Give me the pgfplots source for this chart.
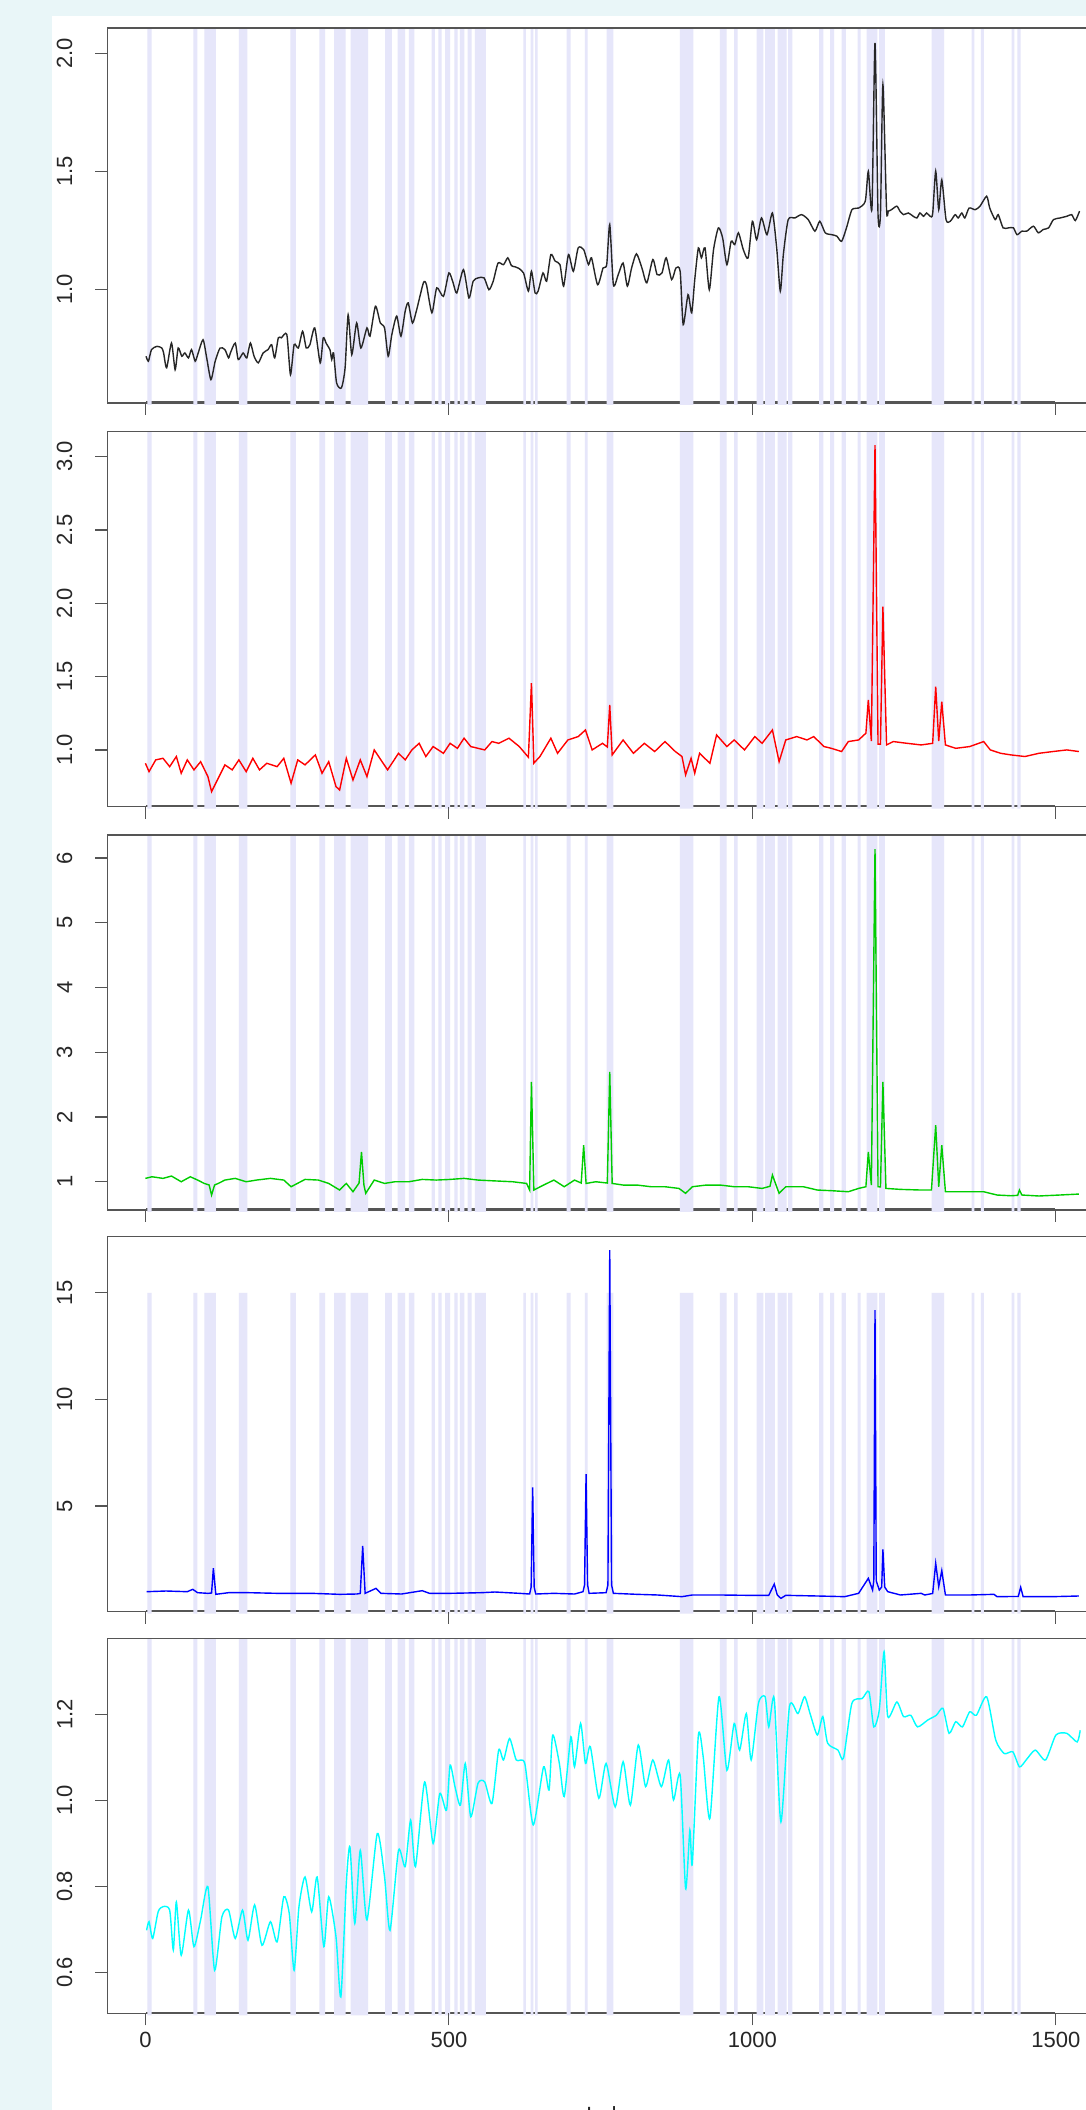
\documentclass[border=0pt]{standalone}
\usepackage{fontspec}
\setmainfont{Liberation Sans}
\usepackage{pgfplots}
\usepackage{pgfplotstable}
\pgfplotsset{compat=1.18}

\definecolor{bandcol}{HTML}{E6E6FA}
\definecolor{framecol}{HTML}{E9F6F8}
\definecolor{spinecol}{HTML}{555555}
\definecolor{rcol}{HTML}{FF0000}
\definecolor{gcol}{HTML}{00CD00}
\definecolor{bcol}{HTML}{0000FF}
\definecolor{ccol}{HTML}{00FFFF}

% shaded index ranges, written as a comb: f=1 on the band, f=0 off it
\pgfplotstableread{
x f
3.1 0
3.1 1
10.4 1
10.4 0
79 0
79 1
85.5 1
85.5 0
97 0
97 1
116 1
116 0
154 0
154 1
168 1
168 0
239 0
239 1
248 1
248 0
286.5 0
286.5 1
296 1
296 0
311 0
311 1
330 1
330 0
338 0
338 1
367 1
367 0
395 0
395 1
406 1
406 0
415.6 0
415.6 1
427.7 1
427.7 0
434 0
434 1
443 1
443 0
471.6 0
471.6 1
477 1
477 0
482.5 0
482.5 1
488 1
488 0
493.6 0
493.6 1
502 1
502 0
509 0
509 1
514.5 1
514.5 0
518 0
518 1
525.4 1
525.4 0
531 0
531 1
537.6 1
537.6 0
543 0
543 1
561 1
561 0
622.6 0
622.6 1
627 1
627 0
634.8 0
634.8 1
639 1
639 0
642 0
642 1
646 1
646 0
694 0
694 1
700.7 1
700.7 0
724 0
724 1
728.7 1
728.7 0
760 0
760 1
771 1
771 0
880.7 0
880.7 1
902.6 1
902.6 0
946.6 0
946.6 1
957.6 1
957.6 0
969.7 0
969.7 1
975.8 1
975.8 0
1007 0
1007 1
1018 1
1018 0
1020.8 0
1020.8 1
1037 1
1037 0
1041.7 0
1041.7 1
1056.5 1
1056.5 0
1059 0
1059 1
1066 1
1066 0
1110 0
1110 1
1117 1
1117 0
1128 0
1128 1
1134.5 1
1134.5 0
1147 0
1147 1
1154 1
1154 0
1173.5 0
1173.5 1
1178.4 1
1178.4 0
1188 0
1188 1
1206 1
1206 0
1208.6 0
1208.6 1
1218.4 1
1218.4 0
1295.4 0
1295.4 1
1315.7 1
1315.7 0
1361 0
1361 1
1365.6 1
1365.6 0
1376.6 0
1376.6 1
1381.5 1
1381.5 0
1427 0
1427 1
1431.5 1
1431.5 0
1436.5 0
1436.5 1
1442 1
1442 0
}\bandtab

\pgfplotstableread{
x y
1 0.716
5 0.695
10 0.744
19 0.758
27 0.751
30 0.730
35 0.667
43 0.772
49 0.659
54 0.751
60 0.716
65 0.730
71 0.709
76 0.744
82 0.695
87 0.730
95 0.786
101 0.709
108 0.617
115 0.695
123 0.751
131 0.744
137 0.709
140 0.730
148 0.772
153 0.702
161 0.730
167 0.709
173 0.772
179 0.716
186 0.688
194 0.730
202 0.744
208 0.765
213 0.709
219 0.794
224 0.794
233 0.808
239 0.638
245 0.765
252 0.751
259 0.822
265 0.751
271 0.765
279 0.836
288 0.688
293 0.794
298 0.770
304 0.744
307 0.702
310 0.730
315 0.603
323 0.582
329 0.667
334 0.892
340 0.723
348 0.857
355 0.751
365 0.836
370 0.801
379 0.928
387 0.857
394 0.836
400 0.716
406 0.808
414 0.886
421 0.801
428 0.907
433 0.942
440 0.857
447 0.914
458 1.027
463 1.019
472 0.900
480 1.006
491 0.970
500 1.069
507 1.027
513 0.984
524 1.083
533 0.963
540 1.034
548 1.048
558 1.048
566 0.998
573 1.034
581 1.111
590 1.104
597 1.133
603 1.100
609 1.095
614 1.090
623 1.069
631 0.992
636 1.076
642 0.984
647 0.992
655 1.069
661 1.034
668 1.147
675 1.119
683 1.104
689 1.013
697 1.147
705 1.076
713 1.175
722 1.168
730 1.104
735 1.133
745 1.019
754 1.090
760 1.104
765 1.274
771 1.019
779 1.062
787 1.111
794 1.013
801 1.090
809 1.150
818 1.090
826 1.027
836 1.126
843 1.062
851 1.069
858 1.133
867 1.041
874 1.090
881 1.076
886 0.850
894 0.977
900 0.900
905 1.040
911 1.175
916 1.133
922 1.175
929 0.998
936 1.168
944 1.260
951 1.217
958 1.104
965 1.203
971 1.189
977 1.239
985 1.168
993 1.133
1000 1.288
1007 1.210
1015 1.302
1024 1.231
1033 1.323
1040 1.175
1046 0.992
1051 1.147
1059 1.295
1070 1.302
1081 1.316
1092 1.295
1103 1.246
1111 1.288
1120 1.239
1131 1.231
1139 1.225
1147 1.203
1155 1.260
1164 1.337
1175 1.344
1186 1.373
1191 1.500
1197 1.344
1202 2.044
1207 1.316
1211 1.320
1215 1.867
1221 1.337
1224 1.331
1229 1.337
1238 1.352
1243 1.331
1249 1.316
1257 1.323
1265 1.309
1271 1.302
1276 1.323
1282 1.309
1287 1.323
1293 1.309
1297 1.320
1302 1.500
1307 1.337
1312 1.464
1319 1.295
1326 1.288
1334 1.316
1339 1.302
1345 1.323
1350 1.302
1357 1.344
1367 1.337
1375 1.352
1386 1.394
1391 1.344
1400 1.295
1405 1.316
1413 1.260
1422 1.260
1430 1.260
1436 1.231
1444 1.246
1452 1.246
1463 1.267
1471 1.239
1479 1.253
1488 1.260
1496 1.295
1507 1.302
1518 1.309
1526 1.316
1532 1.291
1539 1.331
}\blackdata

\pgfplotstableread{
x y
0 0.909
6 0.852
17 0.932
29 0.943
40 0.886
51 0.955
59 0.841
69 0.932
80 0.864
91 0.920
103 0.818
109 0.716
120 0.807
131 0.898
143 0.864
154 0.932
166 0.852
177 0.943
188 0.864
200 0.909
217 0.886
228 0.943
240 0.773
251 0.932
263 0.898
280 0.966
291 0.841
302 0.920
314 0.750
320 0.727
331 0.943
342 0.795
354 0.932
365 0.818
377 1.000
388 0.932
399 0.864
417 0.977
428 0.932
439 1.000
451 1.045
462 0.955
474 1.023
491 0.977
502 1.045
514 1.011
525 1.080
536 1.023
559 1.000
571 1.057
582 1.045
599 1.080
616 1.023
631 0.950
636 1.455
640 0.910
650 0.955
668 1.080
679 0.977
696 1.068
713 1.091
725 1.136
736 1.000
753 1.045
761 1.020
765 1.307
769 0.966
787 1.068
804 0.977
822 1.045
839 0.989
856 1.057
873 0.989
884 0.955
890 0.830
899 0.943
905 0.841
913 0.977
930 0.909
941 1.102
958 1.023
970 1.068
987 1.000
1004 1.091
1016 1.045
1033 1.136
1044 0.920
1055 1.068
1073 1.091
1090 1.068
1101 1.091
1118 1.023
1130 1.011
1147 0.989
1158 1.057
1175 1.068
1187 1.114
1191 1.341
1196 1.060
1202 3.079
1207 1.040
1211 1.040
1215 1.977
1221 1.034
1232 1.057
1255 1.045
1278 1.034
1297 1.045
1302 1.432
1307 1.060
1312 1.329
1318 1.034
1335 1.011
1358 1.023
1381 1.057
1392 1.000
1409 0.977
1426 0.966
1449 0.955
1472 0.977
1495 0.989
1518 1.000
1538 0.989
}\reddata

\pgfplotstableread{
x y
0 1.052
11 1.077
29 1.052
43 1.088
59 1.000
74 1.077
86 1.026
97 0.974
105 0.950
109 0.795
114 0.950
120 0.974
131 1.026
148 1.052
166 1.000
183 1.026
206 1.052
228 1.026
240 0.923
263 1.036
285 1.026
302 0.974
320 0.872
331 0.974
342 0.846
352 0.980
356 1.462
360 0.950
363 0.821
377 1.026
394 0.974
411 1.000
434 1.000
456 1.036
479 1.026
502 1.036
525 1.052
548 1.026
571 1.015
605 1.000
628 0.974
633 0.872
636 2.541
640 0.872
656 0.949
673 1.026
690 0.923
707 1.026
718 0.980
722 1.565
726 0.974
742 1.000
761 0.980
765 2.695
769 0.974
787 0.949
810 0.949
833 0.923
856 0.923
879 0.897
890 0.821
901 0.923
924 0.949
947 0.949
970 0.923
993 0.923
1016 0.897
1029 0.930
1033 1.103
1044 0.821
1055 0.923
1084 0.923
1107 0.872
1130 0.862
1158 0.846
1175 0.897
1187 0.923
1191 1.462
1196 0.949
1202 6.137
1207 0.923
1211 0.920
1215 2.541
1220 0.897
1244 0.882
1278 0.872
1295 0.872
1302 1.874
1307 0.923
1312 1.565
1318 0.846
1346 0.846
1381 0.846
1403 0.795
1426 0.784
1437 0.790
1440 0.872
1444 0.795
1472 0.780
1506 0.795
1538 0.810
}\greendata

\pgfplotstableread{
x y
2 0.983
34 1.015
69 0.983
78 1.094
86 0.936
103 0.906
109 0.920
112 2.080
116 0.860
137 0.936
171 0.936
217 0.906
274 0.906
320 0.859
348 0.874
354 0.900
358 3.125
362 0.906
380 1.140
388 0.906
422 0.874
456 1.030
468 0.906
502 0.906
553 0.936
576 0.968
616 0.906
633 0.874
635.5 1.200
638 5.880
640.5 1.200
643 0.874
673 0.906
707 0.874
721 0.983
723.5 1.300
726 6.500
728.5 1.300
731 0.906
759 0.936
762 1.300
765 17.000
768 1.300
771 0.906
810 0.859
844 0.828
884 0.750
901 0.828
947 0.828
993 0.812
1027 0.812
1036 1.340
1041 0.828
1047 0.670
1055 0.812
1107 0.781
1152 0.750
1175 0.906
1191 1.610
1198 1.060
1200 1.500
1202 14.190
1204 1.500
1209 1.060
1213 1.200
1215 2.970
1218 1.200
1223 0.983
1244 0.828
1278 0.906
1284 0.828
1297 0.900
1302 2.310
1307 1.220
1312 1.970
1318 0.828
1358 0.828
1398 0.859
1403 0.750
1438 0.760
1442 1.190
1446 0.750
1495 0.750
1538 0.781
}\bluedata

\pgfplotstableread{
x y
2 0.698
6 0.718
12 0.679
21 0.741
29 0.753
40 0.745
46 0.652
51 0.764
59 0.640
71 0.745
80 0.660
91 0.722
103 0.799
114 0.605
126 0.729
137 0.745
148 0.679
160 0.745
169 0.675
180 0.757
192 0.663
206 0.718
217 0.671
228 0.776
237 0.737
245 0.605
253 0.753
263 0.822
274 0.741
283 0.822
294 0.660
302 0.776
314 0.683
322 0.543
331 0.807
337 0.892
345 0.714
354 0.884
365 0.722
382 0.923
394 0.822
403 0.698
417 0.884
428 0.846
437 0.954
445 0.846
460 1.043
474 0.900
485 1.016
496 0.977
502 1.082
510 1.032
519 0.989
527 1.086
536 0.962
548 1.040
559 1.043
571 0.993
582 1.117
590 1.094
600 1.144
611 1.094
625 1.086
639 0.943
656 1.078
665 1.024
671 1.152
682 1.086
690 1.009
701 1.148
707 1.078
717 1.179
725 1.086
733 1.125
747 1.005
759 1.086
774 0.985
787 1.090
799 0.989
812 1.129
824 1.032
836 1.094
850 1.032
862 1.094
870 1.001
881 1.059
890 0.795
897 0.931
901 0.853
911 1.152
919 1.101
930 0.958
945 1.241
958 1.070
970 1.179
979 1.117
990 1.202
998 1.094
1010 1.226
1021 1.241
1027 1.171
1036 1.237
1047 0.950
1061 1.218
1075 1.202
1086 1.241
1095 1.202
1107 1.152
1116 1.195
1124 1.133
1141 1.117
1150 1.098
1164 1.226
1181 1.237
1192 1.253
1200 1.171
1209 1.210
1217 1.346
1223 1.195
1238 1.229
1249 1.195
1261 1.198
1272 1.171
1289 1.187
1303 1.198
1314 1.214
1324 1.156
1335 1.183
1346 1.171
1358 1.206
1369 1.198
1386 1.241
1401 1.140
1415 1.109
1429 1.113
1440 1.078
1451 1.094
1466 1.117
1483 1.094
1500 1.152
1518 1.156
1535 1.136
1540 1.163
}\cyandata

\pgfplotsset{
  panel/.style={
    scale only axis, width=505.2pt, height=187.5pt,
    xmin=-62.6, xmax=1602, clip=false,
    axis line style={draw=none}, axis on top,
    tick align=outside, major tick length=6pt,
    tick style={spinecol, line width=0.6pt},
    xtick={0,500,1000,1500}, xticklabels={},
    xtick pos=bottom, ytick pos=left,
    tick label style={font=\fontsize{11}{13}\selectfont, text=black!85},
    yticklabel style={xshift=-8pt, rotate=90, anchor=south},
    /pgf/number format/assume math mode=true,
  },
}

% box, rug and shaded bands of one panel: #1 ymin, #2 ymax, #3 rug y, #4 band bottom, #5 band top
\newcommand{\panelback}[5]{%
  \draw[spinecol, line width=0.6pt] (axis cs:-62.6,#1) -- (axis cs:1602,#1);
  \addplot[spinecol, line width=1.2pt, forget plot] coordinates {(1,#3) (1498,#3)};
  \addplot[fill=bandcol, draw=none, forget plot]
    table[x=x, y expr={\thisrow{f}*(#5-(#4))+(#4)}] {\bandtab};
  \draw[spinecol, line width=0.6pt] (axis cs:-62.6,#1) -- (axis cs:-62.6,#2) -- (axis cs:1602,#2);
}

\begin{document}
\begin{tikzpicture}
\path[use as bounding box] (0pt,0pt) rectangle (543pt,1055pt);
\clip (0pt,0pt) rectangle (543pt,1055pt);
\fill[framecol] (0pt,0pt) rectangle (543pt,1055pt);
\fill[white] (26pt,0pt) rectangle (543pt,1047pt);

\begin{axis}[panel, at={(53.7pt,853.5pt)}, anchor=south west,
    ymin=0.518, ymax=2.107, ytick={1,1.5,2}, yticklabels={1.0,1.5,2.0}]
  \panelback{0.518}{2.107}{0.520}{0.5095}{2.107}
  \addplot[black!85, line width=0.7pt, smooth, tension=0.4] table {\blackdata};
\end{axis}

\begin{axis}[panel, at={(53.7pt,651.65pt)}, anchor=south west,
    ymin=0.613, ymax=3.170, ytick={1,1.5,2,2.5,3}, yticklabels={1.0,1.5,2.0,2.5,3.0}]
  \panelback{0.613}{3.170}{0.616}{0.599}{3.170}
  \addplot[rcol, line width=0.7pt] table {\reddata};
\end{axis}

\begin{axis}[panel, at={(53.7pt,450pt)}, anchor=south west,
    ymin=0.564, ymax=6.354, ytick={1,2,3,4,5,6}, yticklabels={1,2,3,4,5,6}]
  \panelback{0.564}{6.354}{0.572}{0.533}{6.354}
  \addplot[gcol, line width=0.7pt] table {\greendata};
\end{axis}

\begin{axis}[panel, at={(53.7pt,249.15pt)}, anchor=south west,
    ymin=0.045, ymax=17.63, ytick={5,10,15}, yticklabels={5,10,15}]
  \panelback{0.045}{17.63}{0.068}{-0.049}{15}
  \addplot[bcol, line width=0.7pt] table {\bluedata};
\end{axis}

\begin{axis}[panel, at={(53.7pt,48.35pt)}, anchor=south west,
    ymin=0.505, ymax=1.377, ytick={0.6,0.8,1.0,1.2}, yticklabels={0.6,0.8,1.0,1.2},
    xticklabels={0,500,1000,1500}]
  \panelback{0.505}{1.377}{0.506}{0.500}{1.377}
  \addplot[ccol, line width=0.7pt, smooth, tension=0.4] table {\cyandata};
\end{axis}

\node[anchor=north, inner sep=0pt, font=\fontsize{11}{13}\selectfont, text=black!85] at (306.5pt,2pt) {Index};
\end{tikzpicture}
\end{document}
